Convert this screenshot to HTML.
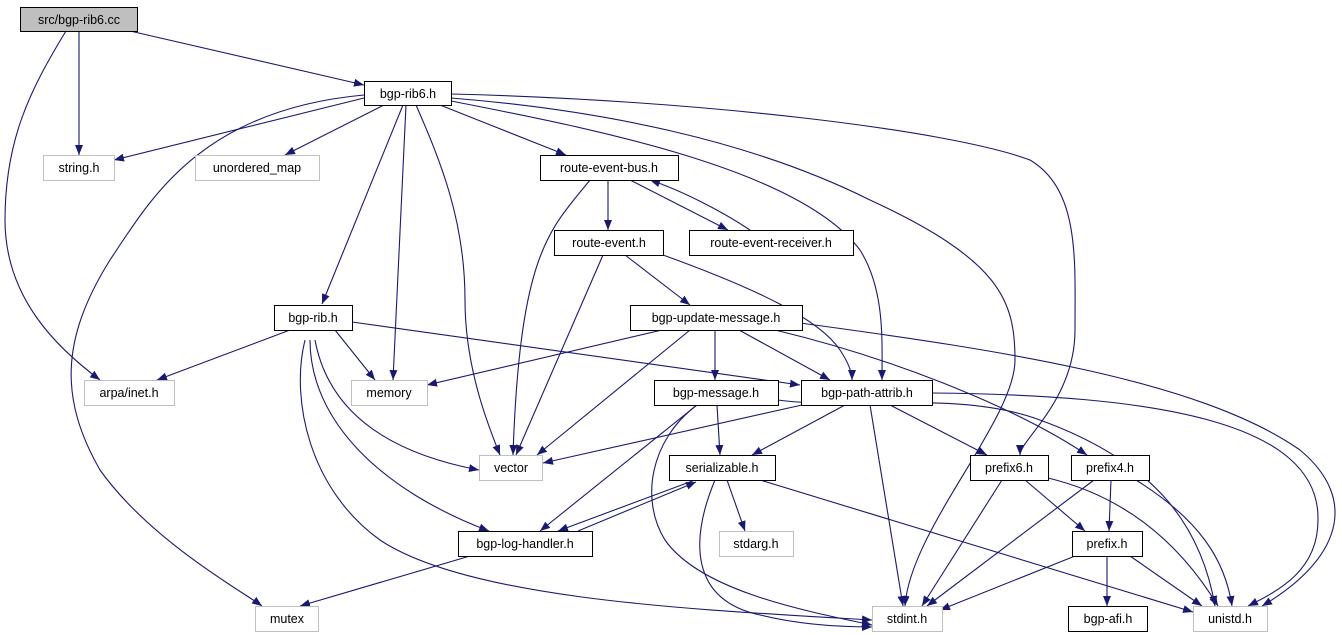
<!DOCTYPE html>
<html><head><meta charset="utf-8"><style>
html,body{margin:0;padding:0;background:#fff;}
svg{display:block;}
text{font-family:"Liberation Sans",sans-serif;font-size:12.5px;fill:#000;}
</style></head><body>
<svg width="1342" height="635" viewBox="0 0 1342 635" xmlns="http://www.w3.org/2000/svg">
<defs><marker id="a" viewBox="0 0 10 10" refX="10" refY="5" markerWidth="10" markerHeight="10" markerUnits="userSpaceOnUse" orient="auto"><path d="M0,1 L10,5 L0,9 z" fill="#191970"/></marker></defs>
<g fill="none" stroke="#191970" stroke-width="1.1" marker-end="url(#a)">
<path d="M130,31 L364,85"/>
<path d="M79,31 L79,155"/>
<path d="M66,31 C30,90 5,140 5,220 C5,300 60,350 100,380"/>
<path d="M364,98 L114,160"/>
<path d="M384,105 L285,155"/>
<path d="M440,105 L566,155"/>
<path d="M403,105 L322,304"/>
<path d="M406,105 L393,380"/>
<path d="M416,105 C440,160 465,220 465,300 C465,370 490,430 500,455"/>
<path d="M364,95 C200,110 150,200 110,260 C60,340 60,400 100,470 C150,540 240,590 262,606"/>
<path d="M451,101 C600,130 800,170 860,250 C885,290 882,340 882,380"/>
<path d="M451,98 C600,110 750,140 870,200 C1000,260 1015,300 1015,360 C1015,420 910,530 905,606"/>
<path d="M451,94 C700,100 950,130 1030,160 C1080,190 1075,260 1075,330 C1075,400 1020,440 1020,455"/>
<path d="M608,180 L608,230"/>
<path d="M590,180 C550,230 520,250 513,455"/>
<path d="M630,180 L728,230"/>
<path d="M750,230 C720,210 680,190 650,180"/>
<path d="M603,255 L516,455"/>
<path d="M625,255 L690,305"/>
<path d="M663,255 C760,290 820,320 840,350 C850,365 852,375 852,380"/>
<path d="M290,330 L157,380"/>
<path d="M335,330 L375,380"/>
<path d="M352,322 L800,385"/>
<path d="M315,340 C330,420 400,455 479,470"/>
<path d="M310,340 C310,420 380,490 489,531"/>
<path d="M305,340 C290,400 310,490 380,540 C470,600 700,610 872,620"/>
<path d="M662,330 L427,385"/>
<path d="M690,330 L537,455"/>
<path d="M715,330 L715,380"/>
<path d="M739,330 L830,380"/>
<path d="M775,330 C900,360 1020,410 1087,455"/>
<path d="M800,323 C1000,350 1200,380 1300,450 C1360,500 1340,560 1262,606"/>
<path d="M717,405 L720,455"/>
<path d="M697,405 L540,531"/>
<path d="M697,405 C650,440 640,500 665,540 C700,590 800,610 872,625"/>
<path d="M778,400 C850,410 960,390 1040,420 C1150,460 1200,520 1215,606"/>
<path d="M802,405 L543,463"/>
<path d="M845,405 L752,455"/>
<path d="M870,405 L903,606"/>
<path d="M890,405 L987,455"/>
<path d="M932,393 C1150,395 1320,420 1318,520 C1318,570 1280,590 1248,606"/>
<path d="M727,480 L745,531"/>
<path d="M695,480 L558,531"/>
<path d="M578,531 L696,482"/>
<path d="M715,480 C690,540 690,600 760,615 C800,625 840,627 872,627"/>
<path d="M760,480 L1193,612"/>
<path d="M470,556 L300,606"/>
<path d="M1002,480 L922,606"/>
<path d="M1025,480 L1085,531"/>
<path d="M1048,478 C1140,500 1190,560 1218,606"/>
<path d="M1094,480 L927,606"/>
<path d="M1111,480 L1109,531"/>
<path d="M1136,480 C1200,520 1225,560 1232,606"/>
<path d="M1075,556 L940,610"/>
<path d="M1107,556 L1107,606"/>
<path d="M1130,556 L1202,606"/>
</g>
<g stroke-width="1" text-anchor="middle">
<rect x="20.5" y="7.5" width="117" height="24" fill="#bfbfbf" stroke="#000"/><text x="79" y="24">src/bgp-rib6.cc</text>
<rect x="364.5" y="81.5" width="87" height="24" fill="#fff" stroke="#000"/><text x="408" y="98">bgp-rib6.h</text>
<rect x="43.5" y="155.5" width="71" height="25" fill="#fff" stroke="#bfbfbf"/><text x="79" y="172">string.h</text>
<rect x="195.5" y="155.5" width="124" height="25" fill="#fff" stroke="#bfbfbf"/><text x="257" y="172">unordered_map</text>
<rect x="540.5" y="155.5" width="138" height="25" fill="#fff" stroke="#000"/><text x="609" y="172">route-event-bus.h</text>
<rect x="554.5" y="230.5" width="109" height="25" fill="#fff" stroke="#000"/><text x="609" y="247">route-event.h</text>
<rect x="689.5" y="230.5" width="164" height="25" fill="#fff" stroke="#000"/><text x="771" y="247">route-event-receiver.h</text>
<rect x="274.5" y="305.5" width="78" height="25" fill="#fff" stroke="#000"/><text x="313" y="322">bgp-rib.h</text>
<rect x="630.5" y="305.5" width="172" height="25" fill="#fff" stroke="#000"/><text x="716" y="322">bgp-update-message.h</text>
<rect x="84.5" y="380.5" width="90" height="25" fill="#fff" stroke="#bfbfbf"/><text x="129" y="397">arpa/inet.h</text>
<rect x="351.5" y="380.5" width="76" height="25" fill="#fff" stroke="#bfbfbf"/><text x="389" y="397">memory</text>
<rect x="654.5" y="380.5" width="124" height="25" fill="#fff" stroke="#000"/><text x="716" y="397">bgp-message.h</text>
<rect x="801.5" y="380.5" width="131" height="25" fill="#fff" stroke="#000"/><text x="867" y="397">bgp-path-attrib.h</text>
<rect x="479.5" y="455.5" width="63" height="25" fill="#fff" stroke="#bfbfbf"/><text x="511" y="472">vector</text>
<rect x="669.5" y="455.5" width="106" height="25" fill="#fff" stroke="#000"/><text x="722" y="472">serializable.h</text>
<rect x="970.5" y="455.5" width="78" height="25" fill="#fff" stroke="#000"/><text x="1009" y="472">prefix6.h</text>
<rect x="1071.5" y="455.5" width="78" height="25" fill="#fff" stroke="#000"/><text x="1110" y="472">prefix4.h</text>
<rect x="458.5" y="531.5" width="134" height="25" fill="#fff" stroke="#000"/><text x="525" y="548">bgp-log-handler.h</text>
<rect x="719.5" y="531.5" width="74" height="25" fill="#fff" stroke="#bfbfbf"/><text x="756" y="548">stdarg.h</text>
<rect x="1072.5" y="531.5" width="70" height="25" fill="#fff" stroke="#000"/><text x="1107" y="548">prefix.h</text>
<rect x="255.5" y="606.5" width="63" height="25" fill="#fff" stroke="#bfbfbf"/><text x="287" y="623">mutex</text>
<rect x="872.5" y="606.5" width="70" height="25" fill="#fff" stroke="#bfbfbf"/><text x="907" y="623">stdint.h</text>
<rect x="1068.5" y="606.5" width="79" height="25" fill="#fff" stroke="#000"/><text x="1108" y="623">bgp-afi.h</text>
<rect x="1193.5" y="606.5" width="74" height="25" fill="#fff" stroke="#bfbfbf"/><text x="1230" y="623">unistd.h</text>
</g>
</svg>
</body></html>
